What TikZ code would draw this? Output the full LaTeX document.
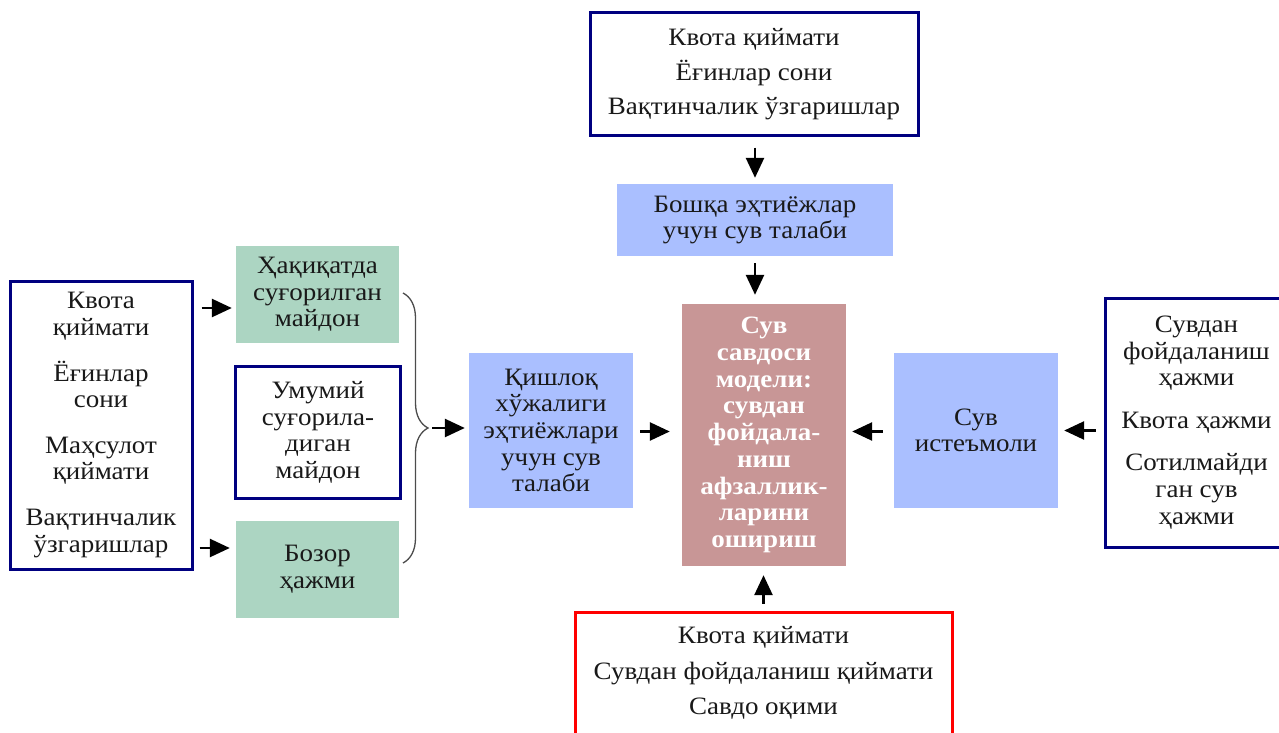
\documentclass[tikz,border=0pt]{standalone}
\usepackage{fontspec}
\setmainfont{Liberation Serif}[FakeStretch=1.08]
\usetikzlibrary{arrows.meta,decorations.pathreplacing,calc}
\definecolor{navy}{RGB}{0,0,128}
\definecolor{gfill}{RGB}{172,213,194}
\definecolor{bfill}{RGB}{170,191,255}
\definecolor{cfill}{RGB}{200,150,150}
\definecolor{rbord}{RGB}{255,0,0}
\definecolor{txt}{RGB}{25,25,25}
\begin{document}
\begin{tikzpicture}[x=1pt,y=-1pt,
  box/.style={inner sep=0pt,align=center,text=txt,font=\fontsize{25}{26.6}\selectfont},
  navybox/.style={box,draw=navy,line width=3pt,fill=white},
  greenbox/.style={box,fill=gfill},
  bluebox/.style={box,fill=bfill},
  arr/.style={-{Triangle[length=20pt,width=18pt]},line width=2.6pt},
  bracestyle/.style={draw=black!70,line width=1.3pt,decorate,decoration={brace,amplitude=25pt}}]
\useasboundingbox (0,0) rectangle (1279,733);
\clip (0,0) rectangle (1279,733);
% top
\node[navybox,minimum width=328pt,minimum height=123pt,font=\fontsize{25}{34.5}\selectfont] (top) at (754,74.5)
  {Квота қиймати\\Ёғинлар сони\\Вақтинчалик ўзгаришлар};
\node[bluebox,minimum width=276pt,minimum height=72pt] (oth) at (755,220)
  {Бошқа эҳтиёжлар\\учун сув талаби};
% center
\node[box,fill=cfill,text=white,font=\fontsize{25}{26.7}\selectfont\bfseries,minimum width=164pt,minimum height=262pt] (cen) at (764,435)
  {Сув\\савдоси\\модели:\\сувдан\\фойдала-\\ниш\\афзаллик-\\ларини\\ошириш};
% bottom
\node[box,draw=rbord,line width=3pt,fill=white,minimum width=377pt,minimum height=150pt] (bot) at (763.5,687) {};
\node[box,font=\fontsize{25}{35.5}\selectfont] (botT) at (763.5,673)
  {Квота қиймати\\Сувдан фойдаланиш қиймати\\Савдо оқими};
% left
\node[navybox,minimum width=182pt,minimum height=288pt] (lft) at (101,425)
  {Квота\\қиймати\\[19pt]Ёғинлар\\сони\\[19pt]Маҳсулот\\қиймати\\[19pt]Вақтинчалик\\ўзгаришлар};
\node[greenbox,minimum width=163pt,minimum height=97pt] (g1) at (317.5,294.5)
  {Ҳақиқатда\\суғорилган\\майдон};
\node[navybox,minimum width=165pt,minimum height=132pt] (mid) at (318,432.5)
  {Умумий\\суғорила-\\диган\\майдон};
\node[greenbox,minimum width=163pt,minimum height=97pt] (g2) at (317.5,569.5)
  {Бозор\\ҳажми};
\node[bluebox,minimum width=164pt,minimum height=155pt] (kish) at (551,430.5)
  {Қишлоқ\\хўжалиги\\эҳтиёжлари\\учун сув\\талаби};
% right
\node[bluebox,minimum width=164pt,minimum height=155pt] (ist) at (976,430.5)
  {Сув\\истеъмоли};
\node[navybox,minimum width=183pt,minimum height=249pt] (rgt) at (1196.5,422.5)
  {Сувдан\\фойдаланиш\\ҳажми\\[16pt]Квота ҳажми\\[16pt]Сотилмайди\\ган сув\\ҳажми};
% brace
\coordinate (bA) at (403,293);
\coordinate (bB) at (403,563);
\coordinate (bT) at (432,428);
\draw[bracestyle] (bA) -- (bB);
% arrows
\draw[arr,shorten <=10pt,shorten >=6pt] (top.south -| oth.north) -- (oth.north);
\draw[arr,shorten <=7pt,shorten >=9pt] (oth.south) -- (oth.south |- cen.north);
\draw[arr,shorten <=7pt,shorten >=9pt] (bot.north) -- (bot.north |- cen.south);
\draw[arr,shorten <=8pt,shorten >=4pt] ([yshift=117pt]lft.east) -- ([yshift=117pt]lft.east -| g1.west);
\draw[arr,shorten <=6pt,shorten >=6pt] ([yshift=-123pt]lft.east) -- ([yshift=-123pt]lft.east -| g2.west);
\draw[arr,shorten >=4pt] (bT) -- (bT -| kish.west);
\draw[arr,shorten <=7pt,shorten >=12pt] ([yshift=-1pt]kish.east) -- ([yshift=-1pt]kish.east -| cen.west);
\draw[arr,shorten <=11pt,shorten >=6pt] ([yshift=-1pt]ist.west) -- ([yshift=-1pt]ist.west -| cen.east);
\draw[arr,shorten <=8pt,shorten >=6pt] (rgt.west |- ist.east) -- (ist.east);
\end{tikzpicture}
\end{document}
